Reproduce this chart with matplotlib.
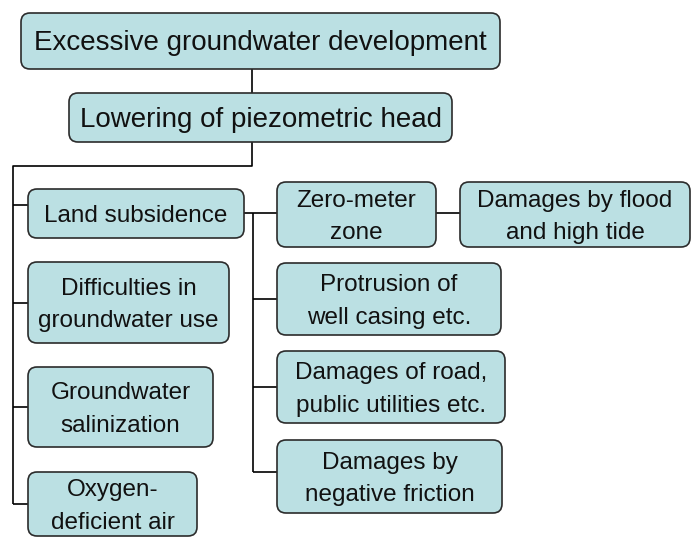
import matplotlib
matplotlib.use('Agg')

import matplotlib.pyplot as plt
from matplotlib.patches import FancyBboxPatch

# node labels
top_labels = ['Excessive groundwater development', 'Lowering of piezometric head']
left_labels = ['Land subsidence', 'Difficulties in\ngroundwater use',
               'Groundwater\nsalinization', 'Oxygen-\ndeficient air']
right_labels = ['Zero-meter\nzone', 'Protrusion of\nwell casing etc.',
                'Damages of road,\npublic utilities etc.', 'Damages by\nnegative friction']
far_label = 'Damages by flood\nand high tide'

# layout in pixels (x0, x1, y0, y1), y going down
top_boxes = [(21, 500, 13, 69), (69, 452, 93, 142)]
left_boxes = [(28, 244, 189, 238), (28, 229, 262, 343),
              (28, 213, 367, 447), (28, 197, 472, 536)]
right_boxes = [(277, 436, 182, 247), (277, 501, 263, 335),
               (277, 505, 351, 423), (277, 502, 440, 513)]
far_box = (460, 690, 182, 247)

FILL = '#bbe0e3'
EDGE = '#2b2b2b'
LW = 1.2
FONT = ['Liberation Sans', 'DejaVu Sans']

fig = plt.figure(figsize=(6.92, 5.41), dpi=100)
ax = fig.add_axes([0, 0, 1, 1])
ax.set_xlim(0, 692)
ax.set_ylim(541, 0)
ax.axis('off')

def box(b, text, size):
    x0, x1, y0, y1 = b
    p = FancyBboxPatch((x0, y0), x1 - x0, y1 - y0,
                       boxstyle='round,pad=0,rounding_size=9',
                       fc=FILL, ec=EDGE, lw=LW, zorder=2)
    ax.add_patch(p)
    ax.text((x0 + x1) / 2, (y0 + y1) / 2 + 2.5, text, ha='center', va='center',
            fontsize=size, color='#111111', linespacing=1.6, zorder=3,
            family=FONT)

def line(xs, ys):
    ax.plot(xs, ys, color='black', lw=LW, solid_capstyle='butt', zorder=1)

for b, t in zip(top_boxes, top_labels):
    box(b, t, 20)
for b, t in zip(left_boxes, left_labels):
    box(b, t, 17.5)
for b, t in zip(right_boxes, right_labels):
    box(b, t, 17.5)
box(far_box, far_label, 17.5)

# connectors
line([252, 252], [69, 93])
line([252, 252, 13, 13], [142, 166, 166, 504])
for b in left_boxes:
    yc = (b[2] + b[3]) / 2 if b is not left_boxes[0] else 205
    if b is left_boxes[-1]:
        yc = 504
    line([13, b[0]], [yc, yc])
line([244, 277], [213, 213])
line([253, 253], [213, 472])
for b in right_boxes[1:]:
    yc = (b[2] + b[3]) / 2
    if b is right_boxes[-1]:
        yc = 472
    line([253, b[0]], [yc, yc])
line([436, 460], [213, 213])

fig.savefig('out.png', dpi=100)
